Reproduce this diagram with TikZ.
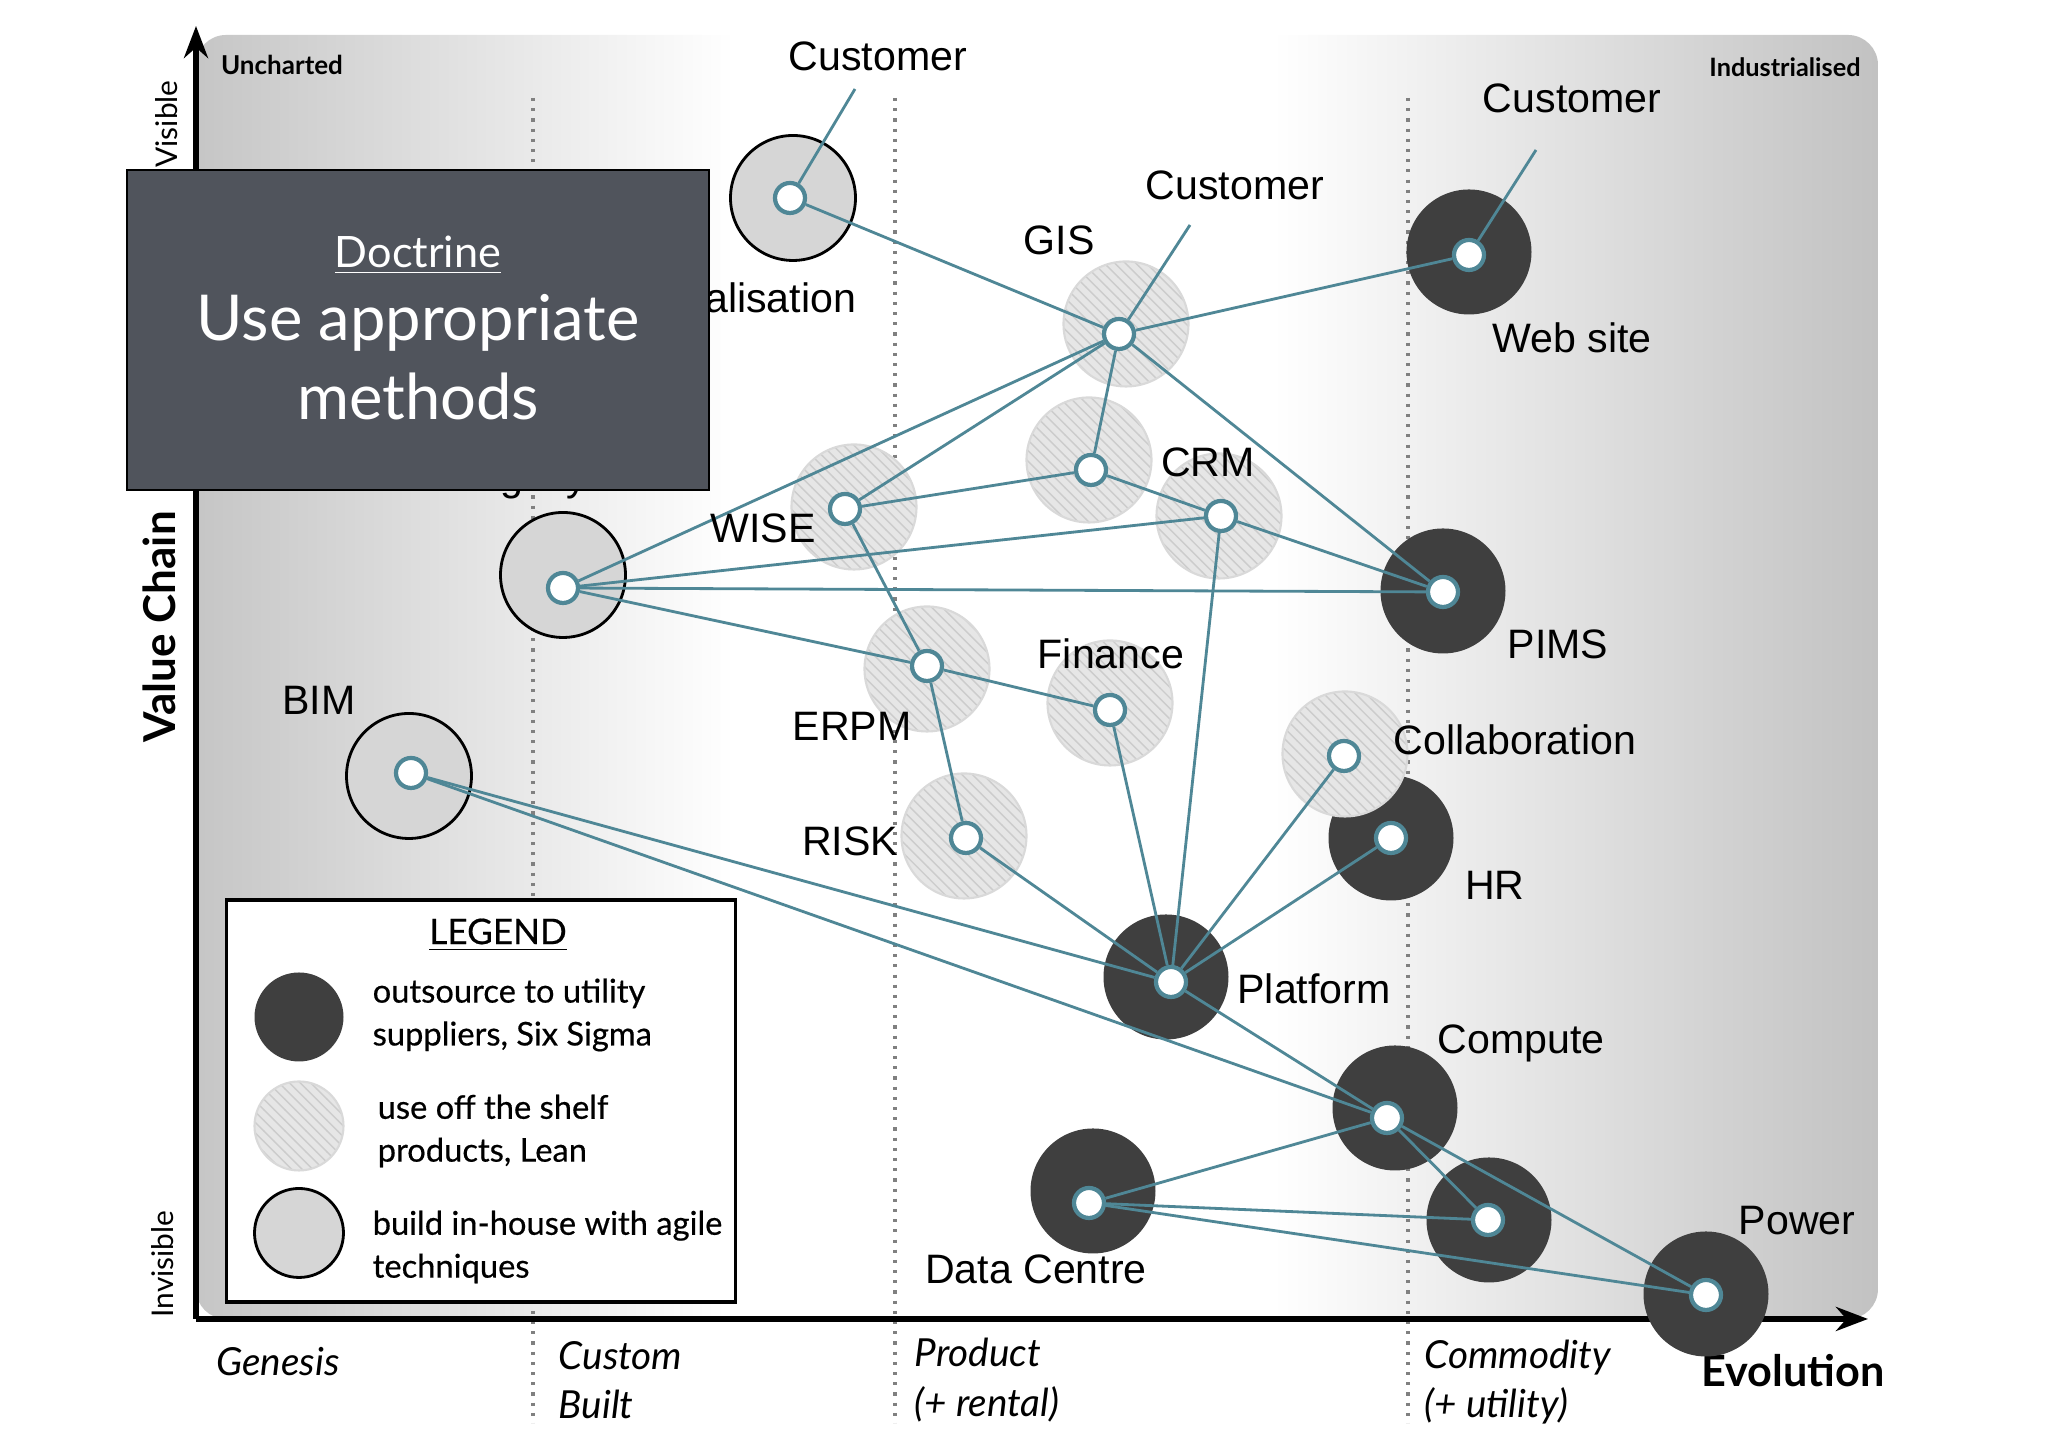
\documentclass[tikz,border=0pt]{standalone}
\usepackage{fontspec}
\setmainfont{Liberation Sans}
\newfontfamily\gill{Lato}
\newfontfamily\gillmed[FakeBold=0.5]{Lato}
\usetikzlibrary{arrows.meta,patterns}
\definecolor{wire}{HTML}{4F8796}
\definecolor{slate}{HTML}{50545C}
\definecolor{darkdot}{HTML}{3F3F3F}
\definecolor{hatchfill}{HTML}{E6E6E6}
\definecolor{buildfill}{HTML}{D6D6D6}
\pgfdeclarehorizontalshading{chartshade}{100bp}{color(0bp)=(gray!45); color(25bp)=(gray!45); color(41bp)=(white); color(57bp)=(white); color(75bp)=(gray!48); color(100bp)=(gray!48)}
\tikzset{
  outsource/.style = { circle, fill=darkdot, minimum size=1.25cm, inner sep=0 },
  offshelf/.style  = { circle, draw=gray!30, line width=0.6pt, preaction={fill=hatchfill}, pattern=north west lines, pattern color=gray!40, minimum size=1.25cm, inner sep=0 },
  inhouse/.style   = { circle, draw=black, line width=0.8pt, fill=buildfill, minimum size=1.25cm, inner sep=0 },
  point/.style     = { circle, draw=wire, line width=1.2pt, fill=white, minimum size=0.3cm, inner sep=0 },
  link/.style      = { wire, line width=0.8pt },
  lbl/.style       = { font=\fontsize{11.7}{14}\selectfont },
  stage/.style     = { font=\gill\itshape\fontsize{11}{14}\selectfont, align=left, anchor=west, inner sep=0 },
  keytext/.style   = { font=\gillmed\fontsize{9.3}{12.2}\selectfont, align=left, anchor=west, inner sep=0 },
  divider/.style   = { dotted, gray, line width=0.9pt }
}
\begin{document}
\begin{tikzpicture}
  \useasboundingbox (0,0) rectangle (20.48,14.47);
  % Draw chart background and axes
  \shade[shading=chartshade, rounded corners=0.3cm] (1.96,1.28) rectangle (18.78,14.12);
  \draw[divider] (5.33,13.49) -- (5.33,0.24);
  \draw[divider] (8.95,13.49) -- (8.95,0.24);
  \draw[divider] (14.08,13.49) -- (14.08,0.24);
  \coordinate (origin) at (1.96,1.28);
  \draw[line width=1.6pt, -{Stealth[length=0.32cm,width=0.24cm]}] (origin) -- (1.96,14.21);
  \draw[line width=1.6pt, -{Stealth[length=0.32cm,width=0.24cm]}] (origin) -- (18.68,1.28);
  \node[rotate=90, font=\gill\fontsize{8.5}{10}\selectfont] (visible) at (1.67,13.23) {Visible};
  \node[rotate=90, font=\gill\fontsize{8.5}{10}\selectfont] (invisible) at (1.63,1.83) {Invisible};
  \node[rotate=90, font=\gill\bfseries\fontsize{12.5}{15}\selectfont] (valuechain) at (1.59,8.20) {Value Chain};
  \node[font=\gill\bfseries\fontsize{7.4}{9}\selectfont] (uncharted) at (2.82,13.82) {Uncharted};
  \node[font=\gill\bfseries\fontsize{7.2}{9}\selectfont] (industrialised) at (17.85,13.80) {Industrialised};
  \node[font=\gill\itshape\fontsize{11}{14}\selectfont] (genesis) at (2.78,0.85) {Genesis};
  \node[stage] (custom) at (5.58,0.67) {Custom\\Built};
  \node[stage] (product) at (9.14,0.67) {Product\\(+ rental)};
  \node[stage] (commodity) at (14.24,0.65) {Commodity\\(+ utility)};
  \node[font=\gill\bfseries\fontsize{12.3}{15}\selectfont] (evolution) at (17.93,0.76) {Evolution};
  % Draw components
  \node[outsource] (hr-ring) at (13.91,6.09) {};
  \node[outsource] (web-ring) at (14.69,11.95) {};
  \node[outsource] (pims-ring) at (14.43,8.56) {};
  \node[outsource] (platform-ring) at (11.66,4.70) {};
  \node[outsource] (compute-ring) at (13.95,3.39) {};
  \node[outsource] (dc-ring) at (10.93,2.56) {};
  \node[outsource] (dc2-ring) at (14.89,2.27) {};
  \node[outsource] (power-ring) at (17.06,1.53) {};
  \node[offshelf] (gis-ring) at (11.26,11.23) {};
  \node[offshelf] (crml-ring) at (10.89,9.87) {};
  \node[offshelf] (crm-ring) at (12.19,9.31) {};
  \node[offshelf] (wise-ring) at (8.54,9.40) {};
  \node[offshelf] (erpm-ring) at (9.27,7.78) {};
  \node[offshelf] (finance-ring) at (11.10,7.44) {};
  \node[offshelf] (risk-ring) at (9.64,6.11) {};
  \node[offshelf] (collab-ring) at (13.45,6.93) {};
  \node[inhouse] (vis-ring) at (7.93,12.49) {};
  \node[inhouse] (legacy-ring) at (5.63,8.72) {};
  \node[inhouse] (bim-ring) at (4.09,6.71) {};
  % Draw points
  \node[point] (vis) at (7.90,12.49) {};
  \node[point] (gis) at (11.19,11.13) {};
  \node[point] (web) at (14.69,11.92) {};
  \node[point] (wise) at (8.45,9.38) {};
  \node[point] (crml) at (10.91,9.77) {};
  \node[point] (crm) at (12.21,9.31) {};
  \node[point] (legacy) at (5.63,8.59) {};
  \node[point] (pims) at (14.43,8.55) {};
  \node[point] (erpm) at (9.27,7.81) {};
  \node[point] (finance) at (11.10,7.37) {};
  \node[point] (risk) at (9.66,6.09) {};
  \node[point] (collab) at (13.44,6.91) {};
  \node[point] (hr) at (13.91,6.09) {};
  \node[point] (bim) at (4.11,6.74) {};
  \node[point] (platform) at (11.71,4.65) {};
  \node[point] (compute) at (13.87,3.29) {};
  \node[point] (dc) at (10.89,2.44) {};
  \node[point] (dc2) at (14.88,2.27) {};
  \node[point] (power) at (17.06,1.52) {};
  % Draw links
  \draw[link] (vis) -- (gis);
  \draw[link] (gis) -- (web);
  \draw[link] (gis) -- (wise);
  \draw[link] (gis) -- (legacy);
  \draw[link] (gis) -- (crml);
  \draw[link] (gis) -- (pims);
  \draw[link] (wise) -- (crml);
  \draw[link] (wise) -- (erpm);
  \draw[link] (crml) -- (crm);
  \draw[link] (legacy) -- (crm);
  \draw[link] (legacy) -- (pims);
  \draw[link] (legacy) -- (erpm);
  \draw[link] (crm) -- (pims);
  \draw[link] (crm) -- (platform);
  \draw[link] (erpm) -- (finance);
  \draw[link] (erpm) -- (risk);
  \draw[link] (finance) -- (platform);
  \draw[link] (risk) -- (platform);
  \draw[link] (collab) -- (platform);
  \draw[link] (hr) -- (platform);
  \draw[link] (bim) -- (platform);
  \draw[link] (bim) -- (compute);
  \draw[link] (platform) -- (compute);
  \draw[link] (compute) -- (dc);
  \draw[link] (compute) -- (dc2);
  \draw[link] (compute) -- (power);
  \draw[link] (dc) -- (dc2);
  \draw[link] (dc) -- (power);
  % Draw labels
  \node[lbl] (cust1) at (8.78,13.91) {Customer};
  \node[lbl] (cust2) at (12.35,12.62) {Customer};
  \node[lbl] (cust3) at (15.72,13.49) {Customer};
  \coordinate (cust1-end) at (8.55,13.58);
  \coordinate (cust2-end) at (11.90,12.22);
  \coordinate (cust3-end) at (15.36,12.97);
  \draw[link] (vis) -- (cust1-end);
  \draw[link] (gis) -- (cust2-end);
  \draw[link] (web) -- (cust3-end);
  \node[lbl] (vis-lbl) at (7.41,11.49) {Visualisation};
  \node[lbl, anchor=base] (legacy-lbl) at (5.21,9.56) {Legacy};
  \node[lbl] (gis-lbl) at (10.59,12.07) {GIS};
  \node[lbl] (web-lbl) at (15.72,11.09) {Web site};
  \node[lbl] (wise-lbl) at (7.63,9.19) {WISE};
  \node[lbl] (crm-lbl) at (12.08,9.85) {CRM};
  \node[lbl] (pims-lbl) at (15.58,8.03) {PIMS};
  \node[lbl] (erpm-lbl) at (8.52,7.21) {ERPM};
  \node[lbl] (finance-lbl) at (11.11,7.93) {Finance};
  \node[lbl] (risk-lbl) at (8.50,6.06) {RISK};
  \node[lbl] (collab-lbl) at (15.15,7.07) {Collaboration};
  \node[lbl] (hr-lbl) at (14.95,5.62) {HR};
  \node[lbl] (bim-lbl) at (3.19,7.47) {BIM};
  \node[lbl] (platform-lbl) at (13.14,4.58) {Platform};
  \node[lbl] (compute-lbl) at (15.21,4.04) {Compute};
  \node[lbl] (dc-lbl) at (10.36,1.78) {Data Centre};
  \node[lbl] (power-lbl) at (17.97,2.26) {Power};
  % Draw legend
  \node[draw=black, fill=white, line width=1pt, minimum width=5.09cm, minimum height=4.02cm] (legend) at (4.81,3.46) {};
  \node[font=\gillmed\fontsize{10}{12}\selectfont] (legend-title) at (4.98,5.12) {\underline{LEGEND}};
  \node[outsource, minimum size=0.89cm] (key-out) at (2.99,4.30) {};
  \node[offshelf, minimum size=0.89cm] (key-shelf) at (2.99,3.21) {};
  \node[inhouse, minimum size=0.89cm] (key-build) at (2.99,2.14) {};
  \node[keytext] (key-out-txt) at (3.72,4.32) {outsource to utility\\suppliers, Six Sigma};
  \node[keytext] (key-shelf-txt) at (3.77,3.16) {use off the shelf\\products, Lean};
  \node[keytext] (key-build-txt) at (3.72,2.00) {build in-house with agile\\techniques};
  % Draw doctrine
  \node[draw=black, fill=slate, line width=0.8pt, minimum width=5.82cm, minimum height=3.2cm] (doctrine) at (4.18,11.17) {};
  \node[text=white, font=\gill\fontsize{12.3}{15}\selectfont] (doc-head) at (4.18,11.92) {\underline{Doctrine}};
  \node[text=white, font=\gill\fontsize{18}{22}\selectfont] (doc-line1) at (4.18,11.24) {Use appropriate};
  \node[text=white, font=\gill\fontsize{18}{22}\selectfont] (doc-line2) at (4.18,10.51) {methods};
\end{tikzpicture}
\end{document}
